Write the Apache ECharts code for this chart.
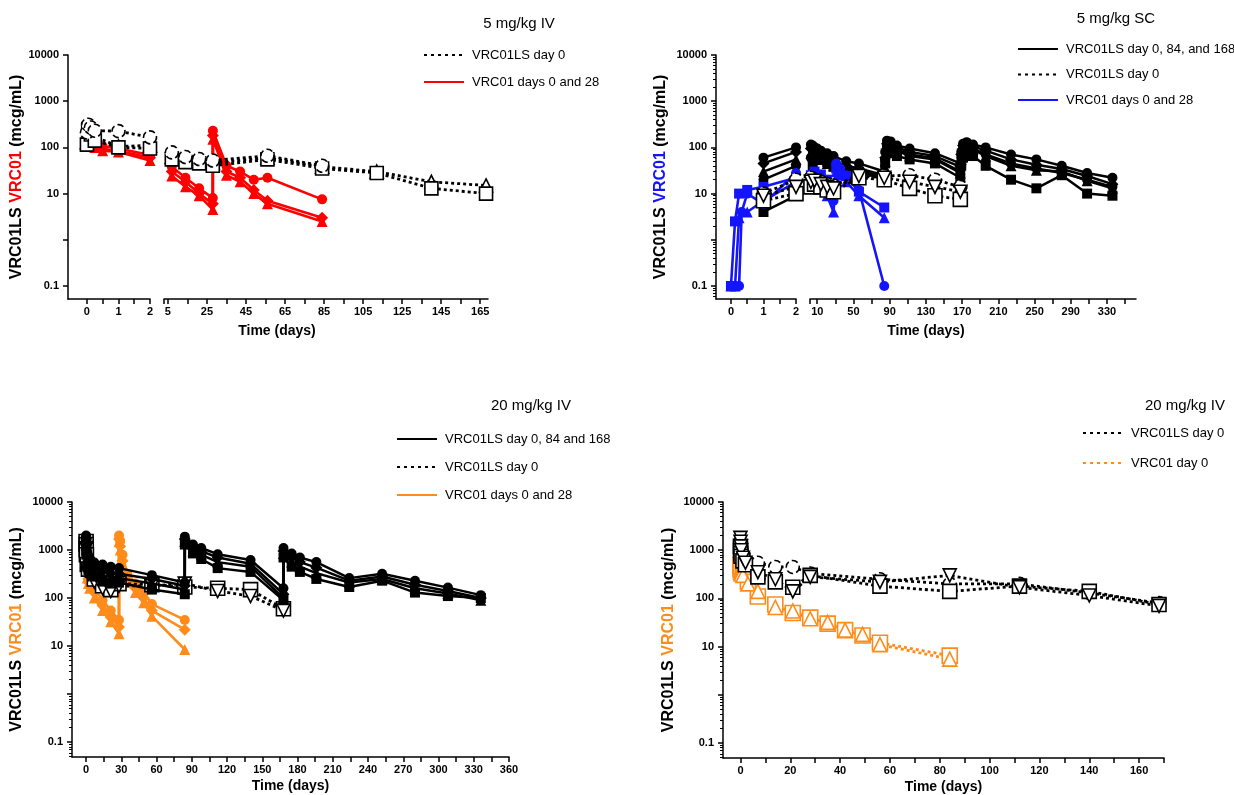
<!DOCTYPE html>
<html>
<head>
<meta charset="utf-8">
<script src="https://cdn.jsdelivr.net/npm/echarts@6/dist/echarts.min.js"></script>
<style>
  html, body { margin: 0; padding: 0; background: #fff; }
  #chart { width: 1234px; height: 795px; }
</style>
</head>
<body>
<div id="chart"></div>
<script>
// ---------- Concentration data (mcg/mL) per participant: [day, value] ----------

// 5 mg/kg IV
const iv5_LS_day0 = [
  [[0,130],[0.04,280],[0.125,220],[0.25,170],[1,105],[2,110],[7,62],[14,56],[21,52],[28,46],[56,60],[84,38],[112,30],[140,18],[168,15]],
  [[0,115],[0.04,240],[0.125,190],[0.25,140],[1,100],[2,95],[7,55],[14,48],[21,45],[28,40],[56,55],[84,35],[112,28],[140,13],[168,10]],
  [[0,210],[0.04,310],[0.125,270],[0.25,230],[1,225],[2,165],[7,78],[14,62],[21,56],[28,52],[56,66],[84,40]]
];
const iv5_VRC01 = [
  [[0,170],[0.04,210],[0.125,160],[0.25,130],[0.5,105],[1,95],[2,68],[7,38],[14,22],[21,13],[28,8],[28.05,230],[35,40],[42,30],[49,20],[56,22],[84,7.5]],
  [[0,150],[0.04,190],[0.125,140],[0.25,110],[0.5,90],[1,85],[2,60],[7,30],[14,18],[21,10],[28,6],[28.05,180],[35,30],[42,22],[49,12],[56,7],[84,3]],
  [[0,130],[0.04,170],[0.125,125],[0.25,100],[0.5,85],[1,80],[2,52],[7,24],[14,14],[21,9],[28,4.5],[28.05,150],[35,25],[42,18],[49,10],[56,6],[84,2.5]]
];

// 5 mg/kg SC
const sc5_LS_q84 = [
  [[1,60],[2,100],[3,115],[5,110],[7,100],[10,95],[14,85],[21,75],[28,65],[42,50],[56,45],[84,30],[85,80],[87,140],[91,135],[98,110],[112,95],[140,75],[168,45],[169,80],[171,120],[175,130],[182,115],[196,100],[224,70],[252,55],[280,40],[308,28],[336,22]],
  [[1,45],[2,80],[3,95],[5,90],[7,85],[10,80],[14,70],[21,60],[28,50],[42,40],[56,35],[84,25],[85,60],[87,120],[91,125],[98,100],[112,80],[140,65],[168,38],[169,70],[171,110],[175,120],[182,105],[196,85],[224,55],[252,42],[280,34],[308,24],[336,16]],
  [[1,30],[2,55],[3,75],[5,75],[7,70],[10,65],[14,55],[21,45],[28,40],[42,33],[56,30],[84,20],[85,50],[87,100],[91,95],[98,85],[112,65],[140,55],[168,28],[169,55],[171,90],[175,105],[182,90],[196,65],[224,40],[252,32],[280,30],[308,19],[336,13]],
  [[1,4],[2,9],[3,22],[5,40],[7,55],[10,60],[14,60],[21,48],[28,38],[42,32],[56,30],[84,22],[85,45],[87,90],[91,75],[98,65],[112,55],[140,45],[168,22],[169,40],[171,60],[175,80],[182,65],[196,40],[224,20],[252,13],[280,25],[308,10],[336,9]],
  [[1,20],[2,40],[3,60],[5,70],[7,75],[10,70],[14,60],[21,50],[28,42],[42,35],[56,32],[84,24],[85,55],[87,110],[91,105],[98,90],[112,70],[140,58],[168,30],[169,60],[171,100],[175,110],[182,95],[196,70],[224,45],[252,35],[280,28],[308,20],[336,14]]
];
const sc5_LS_day0 = [
  [[1,10],[2,20],[3,22],[7,20],[14,18],[21,16],[28,15],[56,25],[84,24],[112,25],[140,20],[168,14]],
  [[1,7],[2,10],[3,14],[7,16],[14,14],[21,12],[28,11],[56,22],[84,20],[112,13],[140,9],[168,7.5]],
  [[1,9],[2,14],[3,18],[7,19],[14,16],[21,14],[28,13],[56,24],[84,22],[112,18],[140,14],[168,11]]
];
const sc5_VRC01 = [
  [[0,0.1],[0.04,0.1],[0.125,2.5],[0.25,10],[0.5,12],[1,14],[2,22],[3,25],[7,30],[14,26],[21,20],[28,14],[31,35],[35,30],[42,24],[56,11],[84,5]],
  [[0,0.1],[0.125,0.1],[0.25,3],[0.5,4],[1,7],[2,18],[3,20],[7,24],[14,18],[21,9],[28,4],[31,30],[35,25],[42,18],[56,9],[84,3]],
  [[0,0.1],[0.25,0.1],[0.33,4],[0.5,10],[1,6],[2,28],[3,22],[7,20],[14,14],[21,12],[28,7],[31,45],[35,35],[42,25],[56,12],[84,0.1]]
];

// 20 mg/kg IV, VRC01LS every 84 days and VRC01 days 0 and 28
const iv20_LS_q84 = [
  [[0,2000],[0.04,1900],[0.125,1600],[0.25,1300],[1,900],[2,750],[3,650],[7,550],[14,500],[21,450],[28,420],[56,300],[84,210],[84.05,1900],[91,1300],[98,1100],[112,820],[140,620],[168,160],[168.05,1100],[175,850],[182,700],[196,560],[224,260],[252,320],[280,230],[308,165],[336,115]],
  [[0,1800],[0.04,1700],[0.125,1400],[0.25,1100],[1,700],[2,600],[3,500],[7,420],[14,380],[21,330],[28,320],[56,250],[84,180],[84.05,1700],[91,1100],[98,950],[112,700],[140,520],[168,120],[168.05,950],[175,700],[182,560],[196,430],[224,230],[252,280],[280,190],[308,140],[336,100]],
  [[0,1600],[0.04,1500],[0.125,1250],[0.25,1000],[1,600],[2,500],[3,420],[7,350],[14,300],[21,280],[28,260],[56,200],[84,150],[84.05,1500],[91,950],[98,800],[112,560],[140,450],[168,100],[168.05,850],[175,560],[182,450],[196,330],[224,210],[252,250],[280,160],[308,125],[336,90]],
  [[0,1300],[0.04,1200],[0.125,1000],[0.25,800],[1,450],[2,380],[3,330],[7,280],[14,220],[21,200],[28,210],[56,150],[84,120],[84.05,1300],[91,850],[98,650],[112,420],[140,350],[168,90],[168.05,700],[175,450],[182,350],[196,250],[224,170],[252,230],[280,130],[308,110],[336,100]]
];
const iv20_LS_day0 = [
  [[0,1500],[0.04,1300],[0.125,1000],[0.25,800],[1,500],[2,400],[7,250],[14,180],[21,150],[28,200],[56,190],[84,170],[112,160],[140,150],[168,60]],
  [[0,1100],[1,400],[2,320],[7,220],[14,160],[21,140],[28,180],[56,180],[84,200],[112,140],[140,110],[168,55]]
];
const iv20_VRC01 = [
  [[0,1500],[0.04,1300],[0.125,1000],[0.25,800],[1,400],[2,300],[3,250],[7,170],[14,90],[21,55],[28,35],[28.05,2000],[29,1500],[31,800],[35,320],[42,200],[49,130],[56,75],[84,35]],
  [[0,1200],[0.04,1000],[0.125,800],[0.25,650],[1,320],[2,250],[3,200],[7,130],[14,70],[21,40],[28,25],[28.05,1700],[29,1200],[31,600],[35,260],[42,160],[49,100],[56,55],[84,22]],
  [[0,1000],[0.04,850],[0.125,700],[0.25,550],[1,260],[2,200],[3,160],[7,100],[14,55],[21,32],[28,18],[28.05,1500],[29,1000],[31,500],[35,210],[42,130],[49,80],[56,42],[84,8.5]]
];

// 20 mg/kg IV, single dose of each antibody
const iv20s_LS_day0 = [
  [[0,1500],[0.04,1300],[0.125,1100],[0.25,950],[1,800],[2,700],[7,550],[14,450],[21,450],[28,330],[56,250],[84,200],[112,200],[140,130],[168,80]],
  [[0,1200],[0.04,1000],[0.125,850],[0.25,750],[1,600],[2,500],[7,280],[14,220],[21,170],[28,300],[56,180],[84,140],[112,180],[140,140],[168,75]],
  [[0,1800],[0.04,1500],[0.125,1200],[0.25,1000],[1,700],[2,550],[7,350],[14,250],[21,140],[28,280],[56,220],[84,300],[112,170],[140,115],[168,70]]
];
const iv20s_VRC01_day0 = [
  [[0,500],[0.04,450],[0.125,420],[0.25,380],[1,350],[3,220],[7,110],[14,75],[21,50],[28,40],[35,30],[42,22],[49,17],[56,12],[84,6.5]],
  [[0,400],[0.04,380],[0.125,350],[0.25,320],[1,300],[3,200],[7,140],[14,65],[21,55],[28,38],[35,32],[42,22],[49,18],[56,11],[84,5.5]]
];

// ---------- Axis ticks and labels ----------
const yTickValues = [0.1, 1, 10, 100, 1000, 10000];
const yLabelValues = [0.1, 10, 100, 1000, 10000];
const brokeLeftTicks = [0, 0.5, 1, 1.5, 2];
const brokeLeftLabels = [0, 1, 2];
const iv5RightTicks = [3, 5, 15, 25, 35, 45, 55, 65, 75, 85, 95, 105, 115, 125, 135, 145, 155, 165];
const iv5RightLabels = [5, 25, 45, 65, 85, 105, 125, 145, 165];
const sc5RightTicks = [2, 10, 30, 50, 70, 90, 110, 130, 150, 170, 190, 210, 230, 250, 270, 290, 310, 330, 350];
const sc5RightLabels = [10, 50, 90, 130, 170, 210, 250, 290, 330];
const iv20Ticks = [0, 15, 30, 45, 60, 75, 90, 105, 120, 135, 150, 165, 180, 195, 210, 225, 240, 255, 270, 285, 300, 315, 330, 345, 360];
const iv20Labels = [0, 30, 60, 90, 120, 150, 180, 210, 240, 270, 300, 330, 360];
const iv20sTicks = [0, 10, 20, 30, 40, 50, 60, 70, 80, 90, 100, 110, 120, 130, 140, 150, 160, 170];
const iv20sLabels = [0, 20, 40, 60, 80, 100, 120, 140, 160];

// ---------- Styling ----------
const FONT = "'Liberation Sans', Arial, Helvetica, sans-serif";
const BLACK = '#000000';
const RED = '#ff0000';
const BLUE = '#1414ff';
const ORANGE = '#ff8c1a';

// log-spaced minor tick positions (2..9 within each decade)
const minorLogTicks = (lo) => {
  const out = [];
  for (let e = -2; e <= 3; e++) {
    for (let m = 2; m <= 9; m++) {
      const v = +(m * Math.pow(10, e)).toPrecision(3);
      if (v >= lo) out.push(v);
    }
  }
  return out;
};

const legendText = {
  a_ls0: 'VRC01LS day 0', a_v: 'VRC01 days 0 and 28',
  b_ls3: 'VRC01LS day 0, 84, and 168', b_ls0: 'VRC01LS day 0', b_v: 'VRC01 days 0 and 28',
  c_ls3: 'VRC01LS day 0, 84 and 168', c_ls0: 'VRC01LS day 0', c_v: 'VRC01 days 0 and 28',
  d_ls0: 'VRC01LS day 0', d_v: 'VRC01 day 0'
};

const numLabel = v => (v < 1 ? String(v) : String(Math.round(v)));
const tickLabelStyle = { fontFamily: FONT, fontSize: 11, fontWeight: 'bold', color: '#000' };

function xAxisDef(grid, min, max, ticks, labels, extra) {
  return Object.assign({
    type: 'value', gridIndex: grid, min: min, max: max, position: 'bottom',
    axisLine: { onZero: false, lineStyle: { color: '#000', width: 1.5 } },
    axisTick: { length: 5, lineStyle: { color: '#000', width: 1.5 }, customValues: ticks },
    axisLabel: Object.assign({ margin: 7, customValues: labels, formatter: numLabel }, tickLabelStyle),
    splitLine: { show: false }
  }, extra || {});
}

function yAxisDef(grid, min, nameColor, gap) {
  return {
    type: 'log', logBase: 10, gridIndex: grid, min: min, max: 10000, position: 'left',
    axisLine: { onZero: false, lineStyle: { color: '#000', width: 1.5 } },
    axisTick: { length: 5, lineStyle: { color: '#000', width: 1.5 }, customValues: yTickValues },
    axisLabel: Object.assign({ margin: 9, customValues: yLabelValues, formatter: numLabel }, tickLabelStyle),
    splitLine: { show: false },
    name: '{k|VRC01LS }{c|VRC01}{k| (mcg/mL)}',
    nameLocation: 'middle', nameRotate: 90, nameGap: gap,
    nameTextStyle: {
      rich: {
        k: { color: '#000', fontFamily: FONT, fontWeight: 'bold', fontSize: 16 },
        c: { color: nameColor, fontFamily: FONT, fontWeight: 'bold', fontSize: 16 }
      }
    }
  };
}

function yMinorDef(grid, min) {
  return {
    type: 'log', logBase: 10, gridIndex: grid, min: min, max: 10000, position: 'left',
    axisLine: { show: false, onZero: false },
    axisTick: { length: 3, lineStyle: { color: '#000', width: 1 }, customValues: minorLogTicks(min) },
    axisLabel: { show: false }, splitLine: { show: false }
  };
}

function yHiddenDef(grid, min) {
  return { type: 'log', logBase: 10, gridIndex: grid, min: min, max: 10000, show: false };
}

const filledMarks = [
  { symbol: 'circle', size: 10 },
  { symbol: 'diamond', size: 12 },
  { symbol: 'triangle', size: 11 },
  { symbol: 'rect', size: 10 },
  { symbol: 'circle', size: 10 }
];
const openMarks = [
  { symbol: 'triangle', size: 13 },
  { symbol: 'rect', size: 13 },
  { symbol: 'circle', size: 13, dashed: true }
];

function subjectSeries(groups, marks, look, xi, yi, keep) {
  return groups.map((pts, i) => {
    const m = marks[i % marks.length];
    return {
      type: 'line', xAxisIndex: xi, yAxisIndex: yi, silent: true, animation: false,
      data: keep ? pts.filter(keep) : pts,
      symbol: m.symbol, symbolSize: m.size, symbolRotate: m.rotate || 0, showAllSymbol: true,
      lineStyle: { color: look.color, width: look.width, type: look.dash || 'solid' },
      itemStyle: {
        color: look.open ? '#ffffff' : look.color,
        borderColor: look.color, borderWidth: look.open ? 1.6 : 0,
        borderType: m.dashed ? 'dashed' : 'solid'
      },
      emphasis: { disabled: true },
      z: look.z || 2
    };
  });
}

function legendSeries(id, color, dotted, xi, yi) {
  return {
    type: 'line', name: id, xAxisIndex: xi, yAxisIndex: yi, data: [], symbol: 'none',
    silent: true, animation: false,
    itemStyle: { color: color, opacity: 0 },
    lineStyle: { color: color, width: 3, type: dotted ? [3, 4] : 'solid' }
  };
}

const leftPart = p => p[0] <= 2;
const rightPart = p => p[0] > 2;

const solidBlack = { color: BLACK, width: 2.5, z: 3 };
const dottedBlack = { color: BLACK, width: 2.8, dash: [3, 3], open: true, z: 4 };
const dottedBlackBelow = { color: BLACK, width: 2.8, dash: [3, 3], open: true, z: 2 };
const solidRed = { color: RED, width: 2.6, z: 2 };
const solidBlue = { color: BLUE, width: 2.6, z: 3 };
const solidOrange = { color: ORANGE, width: 2.6, z: 1 };
const dottedOrange = { color: ORANGE, width: 2.8, dash: [3, 3], open: true, z: 3 };
const downMarks = [
  { symbol: 'circle', size: 13, dashed: true },
  { symbol: 'rect', size: 14 },
  { symbol: 'triangle', size: 13, rotate: 180 }
];
const squareTriMarks = [
  { symbol: 'rect', size: 15 },
  { symbol: 'triangle', size: 14 }
];

const MIN_TOP = 0.0523;
const MIN_BOT = 0.049;

const series = [].concat(
  // 5 mg/kg IV (grids 0 and 1)
  subjectSeries(iv5_VRC01, filledMarks, solidRed, 0, 0, leftPart),
  subjectSeries(iv5_VRC01, filledMarks, solidRed, 1, 1, rightPart),
  subjectSeries(iv5_LS_day0, openMarks, dottedBlack, 0, 0, leftPart),
  subjectSeries(iv5_LS_day0, openMarks, dottedBlack, 1, 1, rightPart),
  // 5 mg/kg SC (grids 2 and 3)
  subjectSeries(sc5_LS_q84, filledMarks, solidBlack, 2, 2, leftPart),
  subjectSeries(sc5_LS_q84, filledMarks, solidBlack, 3, 4, rightPart),
  subjectSeries(sc5_VRC01, [filledMarks[3], filledMarks[2], filledMarks[0]], solidBlue, 2, 2, leftPart),
  subjectSeries(sc5_VRC01, [filledMarks[3], filledMarks[2], filledMarks[0]], solidBlue, 3, 4, rightPart),
  subjectSeries(sc5_LS_day0, downMarks, dottedBlack, 2, 2, leftPart),
  subjectSeries(sc5_LS_day0, downMarks, dottedBlack, 3, 4, rightPart),
  // 20 mg/kg IV, repeated dosing (grid 4)
  subjectSeries(iv20_VRC01, filledMarks, solidOrange, 4, 5),
  subjectSeries(iv20_LS_day0, [downMarks[1], downMarks[2]], dottedBlackBelow, 4, 5),
  subjectSeries(iv20_LS_q84, filledMarks, solidBlack, 4, 5),
  // 20 mg/kg IV, single dose (grid 5)
  subjectSeries(iv20s_VRC01_day0, squareTriMarks, dottedOrange, 5, 7),
  subjectSeries(iv20s_LS_day0, downMarks, dottedBlack, 5, 7),
  // legend keys
  [
    legendSeries('a_ls0', BLACK, true, 1, 1), legendSeries('a_v', RED, false, 1, 1),
    legendSeries('b_ls3', BLACK, false, 3, 4), legendSeries('b_ls0', BLACK, true, 3, 4), legendSeries('b_v', BLUE, false, 3, 4),
    legendSeries('c_ls3', BLACK, false, 4, 5), legendSeries('c_ls0', BLACK, true, 4, 5), legendSeries('c_v', ORANGE, false, 4, 5),
    legendSeries('d_ls0', BLACK, true, 5, 7), legendSeries('d_v', ORANGE, true, 5, 7)
  ]
);

function legendDef(left, top, gap, names) {
  return {
    left: left, top: top, orient: 'vertical', padding: 0,
    itemWidth: 40, itemHeight: 14, itemGap: gap, selectedMode: false,
    data: names, formatter: n => legendText[n],
    itemStyle: { opacity: 0 },
    textStyle: { fontFamily: FONT, fontSize: 13, color: '#000', lineHeight: 14, padding: [0, 0, 0, 3] }
  };
}

const titleStyle = { fontFamily: FONT, fontSize: 15, fontWeight: 'normal', color: '#000' };
const axisTitleStyle = { fontFamily: FONT, fontSize: 14, fontWeight: 'bold', color: '#000' };

const option = {
  animation: false,
  backgroundColor: '#ffffff',
  title: [
    { text: '5 mg/kg IV', left: 519, top: 24, textAlign: 'center', textVerticalAlign: 'middle', padding: 0, textStyle: titleStyle },
    { text: '5 mg/kg SC', left: 1116, top: 19, textAlign: 'center', textVerticalAlign: 'middle', padding: 0, textStyle: titleStyle },
    { text: '20 mg/kg IV', left: 531, top: 406, textAlign: 'center', textVerticalAlign: 'middle', padding: 0, textStyle: titleStyle },
    { text: '20 mg/kg IV', left: 1185, top: 406, textAlign: 'center', textVerticalAlign: 'middle', padding: 0, textStyle: titleStyle },
    { text: 'Time (days)', left: 277, top: 331, textAlign: 'center', textVerticalAlign: 'middle', padding: 0, textStyle: axisTitleStyle },
    { text: 'Time (days)', left: 926, top: 331, textAlign: 'center', textVerticalAlign: 'middle', padding: 0, textStyle: axisTitleStyle }
  ],
  legend: [
    legendDef(423, 48, 13, ['a_ls0', 'a_v']),
    legendDef(1017, 42, 11.5, ['b_ls3', 'b_ls0', 'b_v']),
    legendDef(396, 432, 14, ['c_ls3', 'c_ls0', 'c_v']),
    legendDef(1082, 426, 16, ['d_ls0', 'd_v'])
  ],
  grid: [
    { left: 68, top: 55, width: 82, height: 244 },
    { left: 164, top: 55, width: 324, height: 244 },
    { left: 716, top: 55, width: 80, height: 244 },
    { left: 810, top: 55, width: 326, height: 244 },
    { left: 72, top: 502, width: 437, height: 255 },
    { left: 723, top: 502, width: 441, height: 256 }
  ],
  xAxis: [
    xAxisDef(0, -0.6, 2, brokeLeftTicks, brokeLeftLabels),
    xAxisDef(1, 3, 169, iv5RightTicks, iv5RightLabels),
    xAxisDef(2, -0.46, 2, brokeLeftTicks, brokeLeftLabels),
    xAxisDef(3, 2, 362, sc5RightTicks, sc5RightLabels),
    xAxisDef(4, -12, 360, iv20Ticks, iv20Labels, {
      name: 'Time (days)', nameLocation: 'middle', nameGap: 22, nameTextStyle: axisTitleStyle
    }),
    xAxisDef(5, -7, 170, iv20sTicks, iv20sLabels, {
      name: 'Time (days)', nameLocation: 'middle', nameGap: 22, nameTextStyle: axisTitleStyle
    })
  ],
  yAxis: [
    yAxisDef(0, MIN_TOP, RED, 43),       // 0
    yHiddenDef(1, MIN_TOP),              // 1
    yAxisDef(2, MIN_TOP, BLUE, 47),      // 2
    yMinorDef(2, MIN_TOP),               // 3
    yHiddenDef(3, MIN_TOP),              // 4
    yAxisDef(4, MIN_BOT, ORANGE, 47),    // 5
    yMinorDef(4, MIN_BOT),               // 6
    yAxisDef(5, MIN_BOT, ORANGE, 46),    // 7
    yMinorDef(5, MIN_BOT)                // 8
  ],
  series: series
};

const chart = echarts.init(document.getElementById('chart'), null, { renderer: 'canvas' });
chart.setOption(option);
</script>
</body>
</html>
